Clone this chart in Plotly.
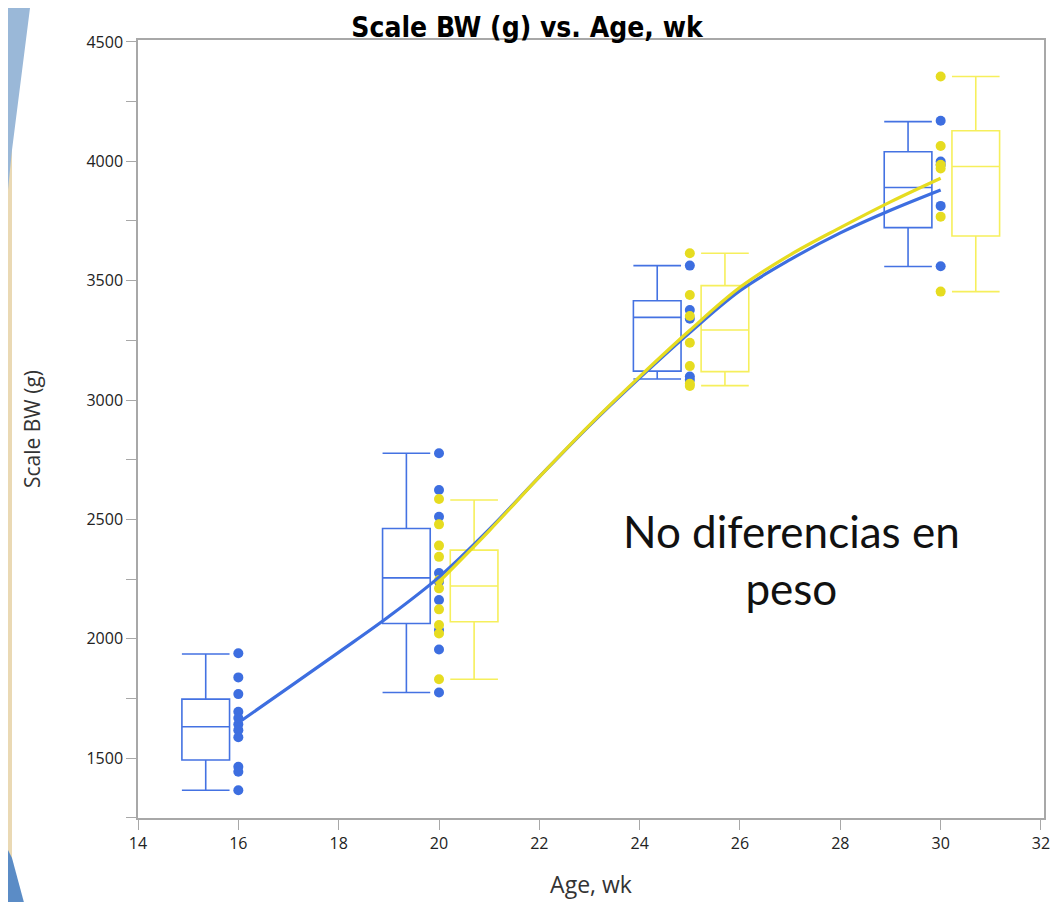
import plotly.graph_objects as go

# ---------------- data ----------------
ages_blue = [16, 20, 25, 30]
ages_yellow = [20, 25, 30]

# box statistics
blue_q1 = [1492, 2064, 3121, 3722]
blue_med = [1631, 2255, 3346, 3890]
blue_q3 = [1747, 2462, 3416, 4040]
blue_lo = [1365, 1775, 3088, 3559]
blue_hi = [1936, 2777, 3563, 4166]

yellow_q1 = [2071, 3119, 3687]
yellow_med = [2221, 3293, 3978]
yellow_q3 = [2371, 3479, 4128]
yellow_lo = [1830, 3060, 3454]
yellow_hi = [2581, 3615, 4355]

# individual observations
blue_pts_16 = [1939, 1838, 1768, 1694, 1668, 1642, 1617, 1587, 1464, 1443, 1365]
blue_pts_20 = [2777, 2623, 2511, 2275, 2239, 2162, 2036, 1955, 1775]
blue_pts_25 = [3563, 3377, 3340, 3098, 3085]
blue_pts_30 = [4170, 3999, 3985, 3813, 3560]

yellow_pts_20 = [2585, 2479, 2390, 2343, 2246, 2211, 2123, 2057, 2022, 1830]
yellow_pts_25 = [3615, 3440, 3352, 3240, 3142, 3068, 3059]
yellow_pts_30 = [4355, 4064, 3985, 3970, 3768, 3454]

# fitted curves
fit_blue_x = [16, 17, 18, 19, 20, 21, 22, 23, 24, 25, 26, 27, 28, 29, 30]
fit_blue_y = [1648, 1795, 1943, 2093, 2258, 2458, 2678, 2893, 3093, 3283, 3458,
              3588, 3700, 3795, 3880]
fit_yellow_x = [20, 21, 22, 23, 24, 25, 26, 27, 28, 29, 30]
fit_yellow_y = [2238, 2452, 2678, 2895, 3098, 3292, 3472, 3608, 3722, 3830, 3929]

title_text = "Scale BW (g) vs. Age, wk"
x_title = "Age, wk"
y_title = "Scale BW (g)"
note_text = "No diferencias en<br>peso"

# ---------------- style ----------------
BLUE = "#3d6ee0"
BLUE_BOX = "#4472e2"
YELLOW = "#e6dc20"
YELLOW_BOX = "#f6ef5c"
BLUE_OFFSET = -0.65
YELLOW_OFFSET = 0.70
BOX_W = 0.95

fig = go.Figure()

fig.add_trace(go.Box(
    x=[a + BLUE_OFFSET for a in ages_blue],
    q1=blue_q1, median=blue_med, q3=blue_q3,
    lowerfence=blue_lo, upperfence=blue_hi,
    width=BOX_W, whiskerwidth=1, boxpoints=False,
    fillcolor="rgba(0,0,0,0)", line=dict(color=BLUE_BOX, width=1.6),
    showlegend=False, hoverinfo="skip"))

fig.add_trace(go.Box(
    x=[a + YELLOW_OFFSET for a in ages_yellow],
    q1=yellow_q1, median=yellow_med, q3=yellow_q3,
    lowerfence=yellow_lo, upperfence=yellow_hi,
    width=BOX_W, whiskerwidth=1, boxpoints=False,
    fillcolor="rgba(0,0,0,0)", line=dict(color=YELLOW_BOX, width=1.6),
    showlegend=False))

bx, by = [], []
for a, pts in zip(ages_blue, [blue_pts_16, blue_pts_20, blue_pts_25, blue_pts_30]):
    bx += [a] * len(pts)
    by += pts
fig.add_trace(go.Scatter(x=bx, y=by, mode="markers",
                         marker=dict(color=BLUE, size=10), showlegend=False))

yx, yy = [], []
for a, pts in zip(ages_yellow, [yellow_pts_20, yellow_pts_25, yellow_pts_30]):
    yx += [a] * len(pts)
    yy += pts
fig.add_trace(go.Scatter(x=yx, y=yy, mode="markers",
                         marker=dict(color=YELLOW, size=10), showlegend=False))

fig.add_trace(go.Scatter(x=fit_blue_x, y=fit_blue_y, mode="lines",
                         line=dict(color=BLUE, width=3.2, shape="spline", smoothing=1),
                         showlegend=False))
fig.add_trace(go.Scatter(x=fit_yellow_x, y=fit_yellow_y, mode="lines",
                         line=dict(color=YELLOW, width=3.2, shape="spline", smoothing=1),
                         showlegend=False))

fig.add_annotation(x=27.02, y=2330, xref="x", yref="y", text=note_text,
                   showarrow=False, xanchor="center", yanchor="middle",
                   font=dict(family="Lato", size=44, color="#111111"))

# page offset (browser body margin) is 8 px; figure coords = page coords - 8
OFF = 8
L, T, R, B = 138 - OFF, 40 - OFF, 1044 - OFF, 818 - OFF


def px(x):
    return (x - OFF - L) / (R - L)


def py(y):
    return (B - (y - OFF)) / (B - T)


fig.add_shape(type="rect", xref="paper", yref="paper",
              x0=px(OFF), x1=px(12), y0=py(910), y1=py(OFF),
              fillcolor="#ead9b4", line=dict(width=0), layer="below")
fig.add_shape(type="path", xref="paper", yref="paper",
              path=f"M {px(OFF)},{py(OFF)} L {px(30)},{py(OFF)} L {px(12)},{py(150)} L {px(OFF)},{py(190)} Z",
              fillcolor="#9ab8d8", line=dict(width=0), layer="below")
fig.add_shape(type="path", xref="paper", yref="paper",
              path=f"M {px(OFF)},{py(850)} L {px(12)},{py(858)} L {px(26)},{py(910)} L {px(OFF)},{py(910)} Z",
              fillcolor="#5b8cc6", line=dict(width=0), layer="below")

fig.update_layout(
    width=1059, height=902,
    margin=dict(l=L, r=1059 - R, t=T, b=902 - B),
    paper_bgcolor="white", plot_bgcolor="white",
    title=dict(text=f"<b>{title_text}</b>", x=(527 - OFF) / 1059, xref="container",
               y=1 - (27 - OFF) / 902, yref="container", xanchor="center", yanchor="middle",
               font=dict(family="DejaVu Sans Condensed, Open Sans", size=28, color="#000000")),
    font=dict(family="Open Sans", color="#222222"),
)
fig.update_xaxes(range=[14, 32.06], dtick=2, tick0=14, showgrid=False, zeroline=False,
                 showline=True, linecolor="#a8a8a8", linewidth=1.5, mirror=True,
                 ticks="outside", ticklen=10, tickcolor="#a8a8a8",
                 tickfont=dict(size=16, color="#222222"),
                 title=dict(text=x_title, standoff=24, font=dict(size=23, color="#333333")),
                 automargin=False)
fig.update_yaxes(range=[1249, 4508], dtick=500, tick0=1500, showgrid=False, zeroline=False,
                 showline=True, linecolor="#a8a8a8", linewidth=1.5, mirror=True,
                 ticks="outside", ticklen=10, tickcolor="#a8a8a8",
                 minor=dict(dtick=250, ticks="outside", ticklen=10, tickcolor="#a8a8a8"),
                 tickfont=dict(size=16, color="#222222"),
                 title=dict(text=y_title, standoff=40, font=dict(size=21, color="#333333")),
                 automargin=False)

fig.write_html("out.html")
